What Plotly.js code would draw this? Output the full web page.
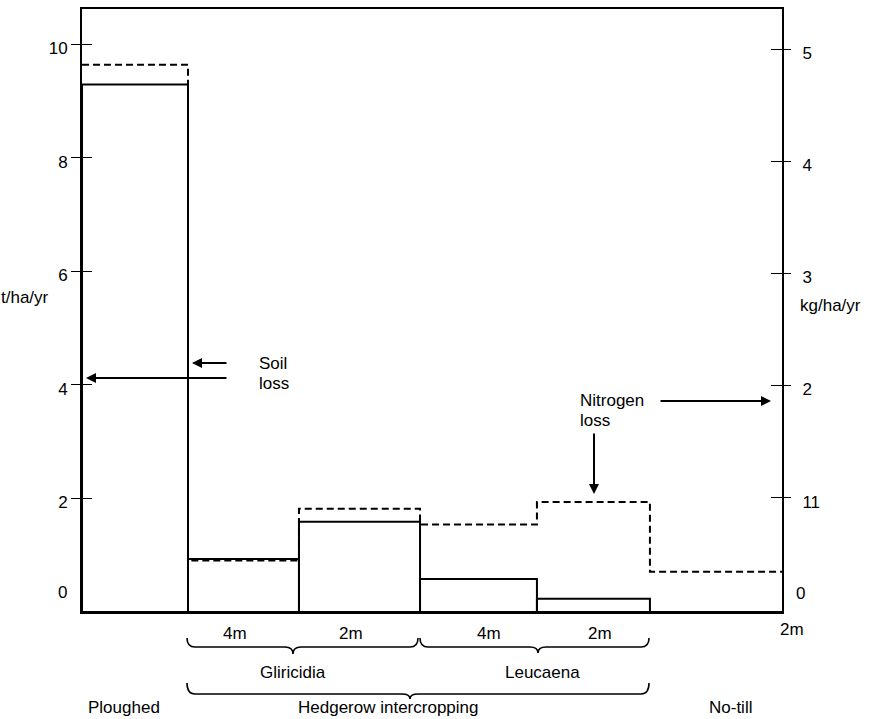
<!DOCTYPE html>
<html><head><meta charset="utf-8">
<script src="https://cdn.plot.ly/plotly-3.0.1.min.js"></script>
<style>html,body{margin:0;padding:0;background:#fff;}#chart{width:872px;height:719px;}</style>
</head><body><div id="chart"></div>
<script>
// ---- data ----
const treatments = ['Ploughed', 'Gliricidia 4m', 'Gliricidia 2m', 'Leucaena 4m', 'Leucaena 2m', 'No-till'];
const segmentEdges = [0, 1, 2.047, 3.189, 4.292, 5.358, 6.604];   // relative widths of the treatment blocks
const soilLoss = [9.29, 0.935, 1.59, 0.58, 0.235, 0];            // t/ha/yr (left axis, solid)
const nitrogenLoss = [4.86, 0.44, 0.90, 0.76, 0.96, 0.34];       // kg/ha/yr (right axis, dashed)
const leftTickVals = [2, 4, 6, 8, 10];
const rightTickVals = [1, 2, 3, 4, 5];
const rightTickText = ['11', '2', '3', '4', '5'];
const spacingLabels = ['4m', '2m', '4m', '2m'];
const speciesLabels = ['Gliricidia', 'Leucaena'];
const groupLabels = ['Ploughed', 'Hedgerow intercropping', 'No-till'];

// ---- layout helpers (pixel -> paper) ----
const L = 82, R = 782, T = 9, B = 612;
const W = R - L, H = B - T;
const px = x => (x - L) / W;
const py = y => (B - y) / H;
const FONT = 'Liberation Sans, Arial, Helvetica, sans-serif';
const INK = '#000';

// bars
const centers = [], widths = [];
for (let i = 0; i < treatments.length; i++) {
  centers.push((segmentEdges[i] + segmentEdges[i + 1]) / 2);
  widths.push(segmentEdges[i + 1] - segmentEdges[i]);
}
// step line
const sx = [], sy = [];
for (let i = 0; i < treatments.length; i++) {
  sx.push(segmentEdges[i], segmentEdges[i + 1]);
  sy.push(nitrogenLoss[i], nitrogenLoss[i]);
}

const traces = [
  { type: 'bar', x: centers, y: soilLoss, width: widths, base: 0, hovertext: treatments, hoverinfo: 'text+y',
    textposition: 'none',
    marker: { color: 'rgba(255,255,255,0)', line: { color: INK, width: 2 } }, yaxis: 'y', showlegend: false },
  { type: 'scatter', mode: 'lines', x: sx, y: sy, yaxis: 'y2', cliponaxis: false,
    line: { color: INK, width: 2, dash: '7px,4px' }, showlegend: false, hoverinfo: 'y' },
  { type: 'scatter', mode: 'markers', x: [null], y: [null], yaxis: 'y3', showlegend: false, hoverinfo: 'skip' },
  { type: 'scatter', mode: 'markers', x: [null], y: [null], yaxis: 'y4', showlegend: false, hoverinfo: 'skip' }
];

const yRange = [0, 10.62];
const y2Range = [-0.02, 5.357];
const tickFont = { family: FONT, size: 17, color: INK };

function ann(text, x, y, opts) {
  return Object.assign({ text: text, xref: 'paper', yref: 'paper', x: px(x), y: py(y),
    showarrow: false, xanchor: 'center', yanchor: 'middle', font: { family: FONT, size: 17, color: INK } }, opts || {});
}
function arrow(headX, headY, tailX, tailY) {
  return { text: '', xref: 'paper', yref: 'paper', x: px(headX), y: py(headY),
    axref: 'pixel', ayref: 'pixel', ax: tailX - headX, ay: tailY - headY,
    showarrow: true, arrowhead: 2, arrowsize: 1, arrowwidth: 2, arrowcolor: INK, standoff: 0, startstandoff: 0 };
}
function brace(x0, x1, xm, yTop, yMid, yTip) {
  const r = 8;
  const P = (x, y) => px(x).toFixed(5) + ',' + py(y).toFixed(5);
  const d = 'M' + P(x0, yTop) + ' Q' + P(x0, yMid) + ' ' + P(x0 + r, yMid) +
    ' L' + P(xm - r, yMid) + ' Q' + P(xm, yMid) + ' ' + P(xm, yTip) +
    ' Q' + P(xm, yMid) + ' ' + P(xm + r, yMid) +
    ' L' + P(x1 - r, yMid) + ' Q' + P(x1, yMid) + ' ' + P(x1, yTop);
  return { type: 'path', xref: 'paper', yref: 'paper', path: d, line: { color: INK, width: 1.6 } };
}

const annotations = [
  ann('t/ha/yr', 25, 297),
  ann('kg/ha/yr', 830, 305),
  ann('0', 62, 592),
  ann('0', 800, 593),
  ann('2m', 792, 629),
  ann('Soil', 257, 363, { xanchor: 'left' }),
  ann('loss', 257, 383, { xanchor: 'left' }),
  ann('Nitrogen', 578, 400, { xanchor: 'left' }),
  ann('loss', 578, 420, { xanchor: 'left' }),
  arrow(192, 363, 228, 363),
  arrow(86, 378, 228, 378),
  arrow(771, 401, 659, 401),
  arrow(594, 494, 594, 432),
  ann(spacingLabels[0], 235, 633),
  ann(spacingLabels[1], 351, 633),
  ann(spacingLabels[2], 489, 633),
  ann(spacingLabels[3], 600, 633),
  ann(speciesLabels[0], 293, 672),
  ann(speciesLabels[1], 542, 672),
  ann(groupLabels[0], 124, 707),
  ann(groupLabels[1], 388, 707),
  ann(groupLabels[2], 730, 707)
];

const shapes = [
  brace(187, 418, 293, 638, 647, 654),
  brace(420, 649, 538, 638, 647, 653),
  brace(187, 649, 410, 683, 694, 699)
];

const layout = {
  width: 872, height: 719,
  margin: { l: L, r: 872 - R, t: T, b: 719 - B, pad: 0 },
  paper_bgcolor: '#fff', plot_bgcolor: '#fff',
  showlegend: false,
  barmode: 'overlay',
  xaxis: { range: [segmentEdges[0], segmentEdges[segmentEdges.length - 1]], showline: true, mirror: true,
    linewidth: 2, linecolor: INK, ticks: '', showticklabels: false, showgrid: false, zeroline: false, fixedrange: true },
  yaxis: { range: yRange, tickvals: leftTickVals, ticks: 'outside', ticklen: 9, tickwidth: 1, tickcolor: INK,
    showline: true, linewidth: 2, linecolor: INK, showgrid: false, zeroline: false, tickfont: tickFont,
    ticklabelshift: 4, ticklabelstandoff: 0, fixedrange: true },
  yaxis2: { overlaying: 'y', side: 'right', range: y2Range, tickvals: rightTickVals, ticktext: rightTickText,
    ticks: 'outside', ticklen: 7, tickwidth: 1, tickcolor: INK, showline: true, linewidth: 2, linecolor: INK,
    showgrid: false, zeroline: false, tickfont: tickFont, ticklabelstandoff: 8, ticklabelshift: 4, fixedrange: true },
  yaxis3: { overlaying: 'y', side: 'left', range: yRange, tickvals: leftTickVals, ticks: 'inside', ticklen: 10,
    tickwidth: 1, tickcolor: INK, showticklabels: false, showline: false, showgrid: false, zeroline: false, fixedrange: true },
  yaxis4: { overlaying: 'y', side: 'right', range: y2Range, tickvals: rightTickVals, ticks: 'inside', ticklen: 11,
    tickwidth: 1, tickcolor: INK, showticklabels: false, showline: false, showgrid: false, zeroline: false, fixedrange: true },
  annotations: annotations,
  shapes: shapes
};

Plotly.newPlot('chart', traces, layout, { displayModeBar: false, staticPlot: true });
</script>
</body></html>
